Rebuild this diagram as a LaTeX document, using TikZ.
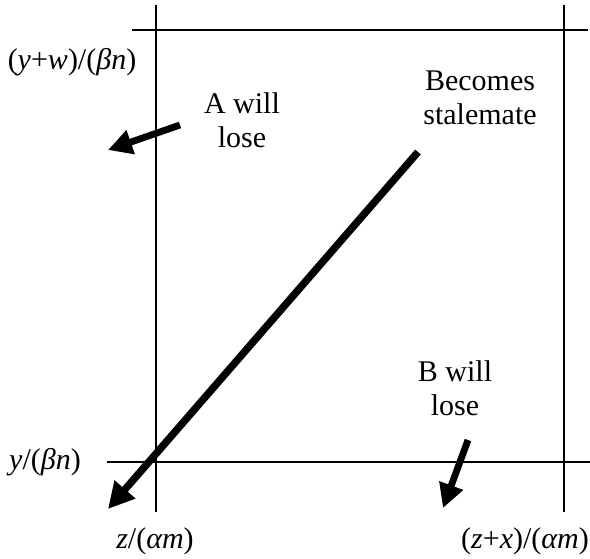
\documentclass[tikz,border=0pt]{standalone}
\usepackage{fontspec}
\setmainfont{Liberation Serif}
\usetikzlibrary{arrows.meta}
\tikzset{
  axisline/.style={line width=1pt},
  fatarrow/.style={line width=3.7pt,-{Triangle[length=13pt,width=13pt]}},
  thinarrow/.style={line width=3.4pt,-{Triangle[length=12pt,width=12pt]}},
  lbl/.style={align=center,font=\fontsize{15}{17}\selectfont,inner sep=0pt}
}
\begin{document}
\begin{tikzpicture}[x=0.5pt,y=-0.5pt]
\useasboundingbox (0,0) rectangle (590,558);
% the four bounding lines
\draw[axisline] (156,5) -- (156,512);
\draw[axisline] (564,5) -- (564,512);
\draw[axisline] (132,30) -- (588,30);
\draw[axisline] (107,462) -- (590,462);
% labels
\node[lbl] (ytop) at (72,62) {(\textit{y}+\textit{w})/(\textit{βn})};
\node[lbl] (ybot) at (45,462) {\textit{y}/(\textit{βn})};
\node[lbl] (zleft) at (155,541) {\textit{z}/(\textit{αm})};
\node[lbl] (zright) at (525,541) {(\textit{z}+\textit{x})/(\textit{αm})};
\node[lbl] (alose) at (242,120) {A will\\lose};
\node[lbl] (stale) at (480,98) {Becomes\\stalemate};
\node[lbl] (blose) at (455,388) {B will\\lose};
% arrows
\coordinate (s0) at (418,152);
\coordinate (s1) at (108,509);
\coordinate (a0) at (180,125);
\coordinate (a1) at (108,150);
\coordinate (b0) at (468,440);
\coordinate (b1) at (443,508);
\draw[fatarrow] (s0) -- (s1);
\draw[thinarrow] (a0) -- (a1);
\draw[thinarrow] (b0) -- (b1);
\end{tikzpicture}
\end{document}
